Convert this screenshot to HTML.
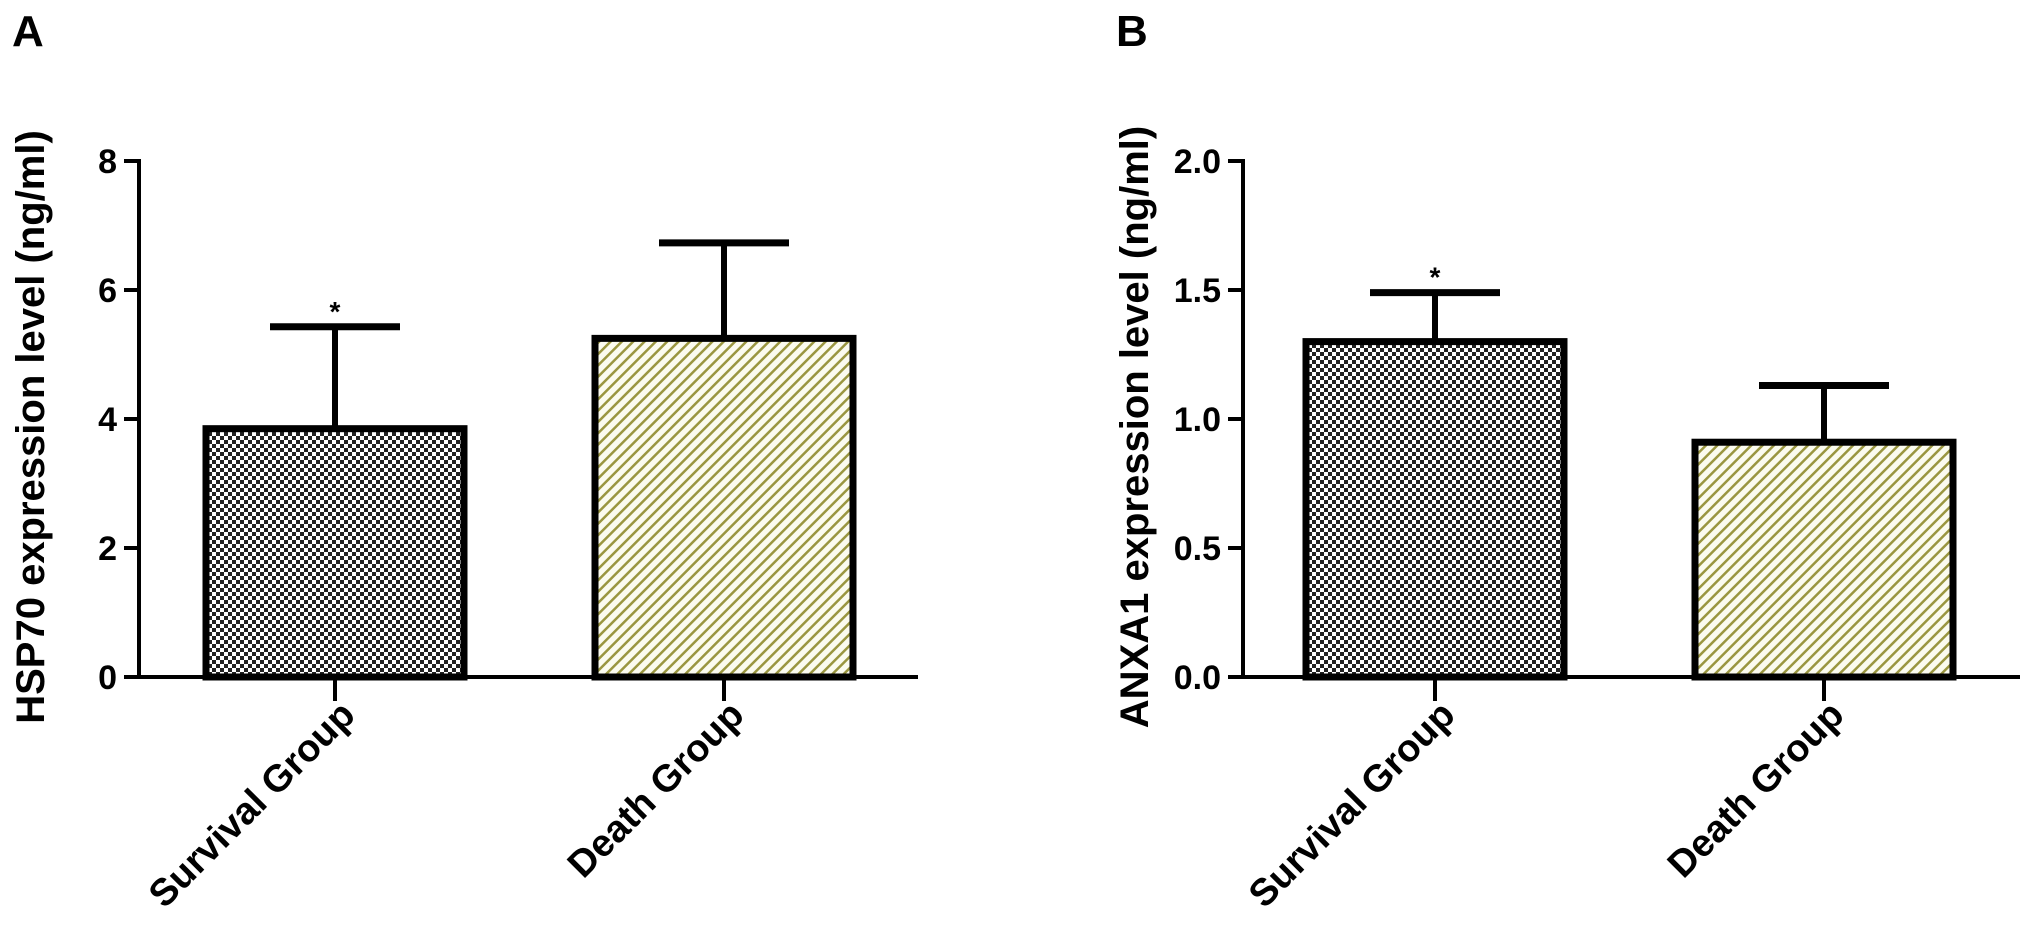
<!DOCTYPE html>
<html><head><meta charset="utf-8"><style>
html,body{margin:0;padding:0;background:#fff;}
svg{display:block;font-family:"Liberation Sans",Arial,sans-serif;font-weight:bold;}
</style></head><body>
<svg id="chart" width="2031" height="927" viewBox="0 0 2031 927" xmlns="http://www.w3.org/2000/svg">
<defs>
<pattern id="checker" width="8" height="8" patternUnits="userSpaceOnUse">
<rect width="8" height="8" fill="#fff"/><rect width="4" height="4" fill="#222"/><rect x="4" y="4" width="4" height="4" fill="#222"/>
</pattern>
<pattern id="hatch" width="8" height="8" patternUnits="userSpaceOnUse" patternTransform="rotate(45)">
<rect width="8" height="8" fill="#fbfbef"/><rect width="2.5" height="8" fill="#9a9640"/>
</pattern>
</defs>
</svg>
<script>
const categories = ["Survival Group", "Death Group"];
const hspMeans = [3.85, 5.25];
const hspErr = [5.43, 6.73];
const hspStars = [true, false];
const hspTicks = ["0","2","4","6","8"];
const hspTickVals = [0,2,4,6,8];
const anxMeans = [1.30, 0.91];
const anxErr = [1.49, 1.13];
const anxStars = [true, false];
const anxTicks = ["0.0","0.5","1.0","1.5","2.0"];
const anxTickVals = [0,0.5,1,1.5,2];

const NS="http://www.w3.org/2000/svg";
const svg=document.getElementById('chart');
function mk(tag,attrs,parent){const e=document.createElementNS(NS,tag);for(const k in attrs)e.setAttribute(k,attrs[k]);(parent||svg).appendChild(e);return e;}

function panel(cfg){
  const g=mk('g',{});
  
  
  const y0=677, yTop=161;
  const y=v=>y0-(v/cfg.max)*(y0-yTop);
  const fills=['url(#checker)','url(#hatch)'];
  const L=mk('text',{x:cfg.letterX,y:46,'font-size':44},g);L.textContent=cfg.letter;
  
  
  const t=mk('text',{x:0,y:0,'font-size':40,'text-anchor':'middle',transform:`translate(${cfg.axX-95},${(y0+yTop)/2+8}) rotate(-90)`},g);
  t.textContent=cfg.title;
  
  
  cfg.means.forEach((m,i)=>{
    const cx=cfg.centers[i], w=258;
    const eb=mk('line',{x1:cx,x2:cx,y1:y(m),y2:y(cfg.err[i]),stroke:'#000','stroke-width':6},g);
    
    
    const cap=mk('line',{x1:cx-65,x2:cx+65,y1:y(cfg.err[i]),y2:y(cfg.err[i]),stroke:'#000','stroke-width':7},g);
    
    
    const r=mk('rect',{x:cx-w/2,y:y(m),width:w,height:y0-y(m),fill:fills[i],stroke:'#000','stroke-width':7},g);
    
    
    if(cfg.stars[i]){const s=mk('text',{x:cx,y:y(cfg.err[i])-6,'font-size':28,'text-anchor':'middle'},g);s.textContent='*';
      
      }
    const tk=mk('line',{x1:cx,x2:cx,y1:y0,y2:y0+24,stroke:'#000','stroke-width':4},g);
    
    
    const lab=mk('text',{x:0,y:0,'font-size':38,'text-anchor':'end',transform:`translate(${cx+22},${y0+40}) rotate(-45)`},g);
    lab.textContent=categories[i];
    
    
  });
  const ya=mk('line',{x1:cfg.axX,x2:cfg.axX,y1:yTop-2,y2:y0+2,stroke:'#000','stroke-width':4},g);
  
  
  const xa=mk('line',{x1:cfg.axX-15,x2:cfg.axX+cfg.xLen,y1:y0,y2:y0,stroke:'#000','stroke-width':4},g);
  
  
  cfg.tickVals.forEach((v,i)=>{
    const tk=mk('line',{x1:cfg.axX-15,x2:cfg.axX,y1:y(v),y2:y(v),stroke:'#000','stroke-width':4},g);
    
    
    const tl=mk('text',{x:cfg.axX-22,y:y(v)+12,'font-size':34,'text-anchor':'end'},g);
    tl.textContent=cfg.ticks[i];
    
    
  });
}
panel({name:'panel-a-hsp70',letter:'A',letterX:12,axX:139,xLen:779,max:8,title:'HSP70 expression level (ng/ml)',
  centers:[335,724],means:hspMeans,err:hspErr,stars:hspStars,ticks:hspTicks,tickVals:hspTickVals});
panel({name:'panel-b-anxa1',letter:'B',letterX:1116,axX:1243,xLen:777,max:2,title:'ANXA1 expression level  (ng/ml)',
  centers:[1435,1824],means:anxMeans,err:anxErr,stars:anxStars,ticks:anxTicks,tickVals:anxTickVals});
</script>
</body></html>
